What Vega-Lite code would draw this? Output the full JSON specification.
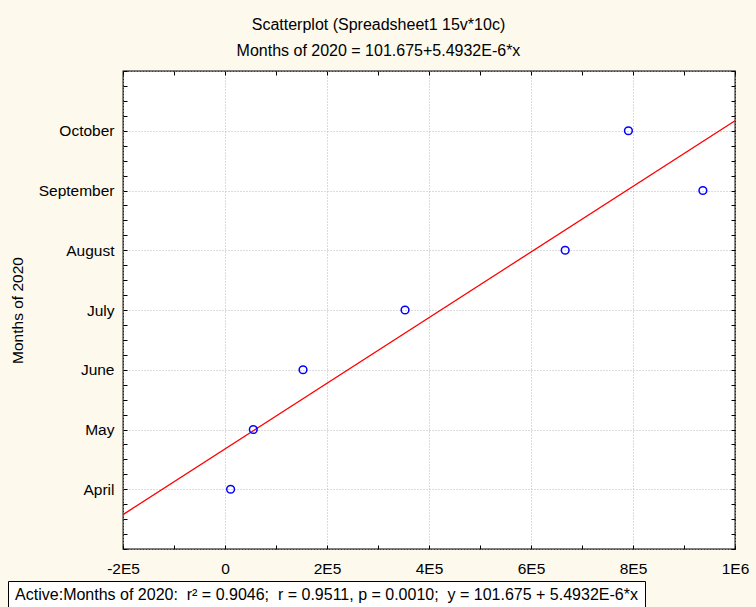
{
  "$schema": "https://vega.github.io/schema/vega-lite/v6.json",
  "background": "#fdf9ed",
  "padding": {"left": 7, "top": 17, "right": 20, "bottom": 0},
  "datasets": {
    "points": [
      {"month": "April", "m": 101, "x": 11000},
      {"month": "May", "m": 102, "x": 55500},
      {"month": "June", "m": 103, "x": 153000},
      {"month": "July", "m": 104, "x": 353000},
      {"month": "August", "m": 105, "x": 667000},
      {"month": "September", "m": 106, "x": 937000},
      {"month": "October", "m": 107, "x": 791000}
    ],
    "fit": [
      {"x": -200000, "m": 100.576},
      {"x": 1000000, "m": 107.168}
    ],
    "note": [
      {"label": "Active:Months of 2020:\u00a0 r² = 0.9046;\u00a0 r = 0.9511, p = 0.0010;\u00a0 y = 101.675 + 5.4932E-6*x"}
    ],
    "blank": [
      {"label": ""}
    ]
  },
  "title": {
    "text": ["Scatterplot (Spreadsheet1 15v*10c)", "Months of 2020 = 101.675+5.4932E-6*x"],
    "font": "Liberation Sans",
    "fontSize": 16,
    "fontWeight": "normal",
    "color": "black",
    "lineHeight": 26,
    "anchor": "middle",
    "offset": 4
  },
  "spacing": 2,
  "vconcat": [
    {
      "spacing": 0,
      "hconcat": [
        {
          "width": 1,
          "height": 1,
          "data": {"name": "blank"},
          "view": {"stroke": null, "fill": null},
          "mark": {"type": "text"},
          "encoding": {"text": {"field": "label", "type": "nominal"}}
        },
        {
          "width": 612,
          "height": 478,
          "view": {"fill": "white", "stroke": "black", "strokeWidth": 1.3},
          "layer": [
            {
              "data": {"name": "fit"},
              "mark": {"type": "line", "color": "#ff0000", "strokeWidth": 1.3, "clip": true},
              "encoding": {
                "x": {
                  "field": "x", "type": "quantitative",
                  "scale": {"domain": [-200000, 1000000], "nice": false, "zero": false},
                  "axis": {
                    "orient": "top", "title": null, "labels": false, "grid": false, "domain": false,
                    "values": [-200000, -100000, 0, 100000, 200000, 300000, 400000, 500000, 600000, 700000, 800000, 900000, 1000000],
                    "tickSize": -4, "tickColor": "black", "tickWidth": 1
                  }
                },
                "y": {
                  "field": "m", "type": "quantitative",
                  "scale": {"domain": [100, 108], "nice": false, "zero": false},
                  "axis": {
                    "orient": "right", "title": null, "labels": false, "grid": false, "domain": false,
                    "values": [100, 100.25, 100.5, 100.75, 101, 101.25, 101.5, 101.75, 102, 102.25, 102.5, 102.75, 103, 103.25, 103.5, 103.75, 104, 104.25, 104.5, 104.75, 105, 105.25, 105.5, 105.75, 106, 106.25, 106.5, 106.75, 107, 107.25, 107.5, 107.75, 108],
                    "tickSize": -4, "tickColor": "black", "tickWidth": 1
                  }
                }
              }
            },
            {
              "data": {"name": "points"},
              "mark": {"type": "point", "shape": "circle", "filled": false, "color": "#0000ff", "size": 60, "strokeWidth": 1.5, "opacity": 1},
              "encoding": {
                "x": {
                  "field": "x", "type": "quantitative",
                  "scale": {"domain": [-200000, 1000000], "nice": false, "zero": false},
                  "axis": {
                    "orient": "bottom", "title": null, "domain": false,
                    "values": [-200000, -100000, 0, 100000, 200000, 300000, 400000, 500000, 600000, 700000, 800000, 900000, 1000000],
                    "labelExpr": "datum.value === 0 ? '0' : (datum.value % 200000 !== 0 ? '' : (datum.value === 1000000 ? '1E6' : (datum.value / 100000) + 'E5'))",
                    "labelFont": "Liberation Sans", "labelFontSize": 15.5, "labelColor": "black",
                    "labelPadding": 16, "labelFlush": false, "labelOverlap": false,
                    "tickSize": -4, "tickColor": "black", "tickWidth": 1,
                    "grid": true, "gridColor": "#b8b8b8", "gridDash": [1, 2],
                    "gridOpacity": {"condition": {"test": "datum.value % 200000 === 0", "value": 1}, "value": 0}
                  }
                },
                "y": {
                  "field": "m", "type": "quantitative",
                  "scale": {"domain": [100, 108], "nice": false, "zero": false},
                  "axis": {
                    "orient": "left", "title": "Months of 2020", "domain": false,
                    "titleFont": "Liberation Sans", "titleFontSize": 15.5, "titleFontWeight": "normal", "titleColor": "black", "titlePadding": 13,
                    "values": [100, 100.25, 100.5, 100.75, 101, 101.25, 101.5, 101.75, 102, 102.25, 102.5, 102.75, 103, 103.25, 103.5, 103.75, 104, 104.25, 104.5, 104.75, 105, 105.25, 105.5, 105.75, 106, 106.25, 106.5, 106.75, 107, 107.25, 107.5, 107.75, 108],
                    "labelExpr": "datum.value % 1 === 0 ? ['', 'April', 'May', 'June', 'July', 'August', 'September', 'October', ''][datum.value - 100] : ''",
                    "labelFont": "Liberation Sans", "labelFontSize": 15.5, "labelColor": "black",
                    "labelPadding": 13, "labelFlush": false, "labelOverlap": false,
                    "tickSize": -4, "tickColor": "black", "tickWidth": 1,
                    "grid": true, "gridColor": "#b8b8b8", "gridDash": [1, 2],
                    "gridOpacity": {"condition": {"test": "datum.value % 1 === 0", "value": 1}, "value": 0}
                  }
                }
              }
            }
          ],
          "resolve": {"axis": {"x": "independent", "y": "independent"}}
        }
      ]
    },
    {
      "width": 637,
      "height": 27,
      "data": {"name": "note"},
      "view": {"fill": "white", "stroke": "black", "strokeWidth": 1},
      "mark": {"type": "text", "font": "Liberation Sans", "fontSize": 16, "color": "black"},
      "encoding": {"text": {"field": "label", "type": "nominal"}}
    }
  ]
}
